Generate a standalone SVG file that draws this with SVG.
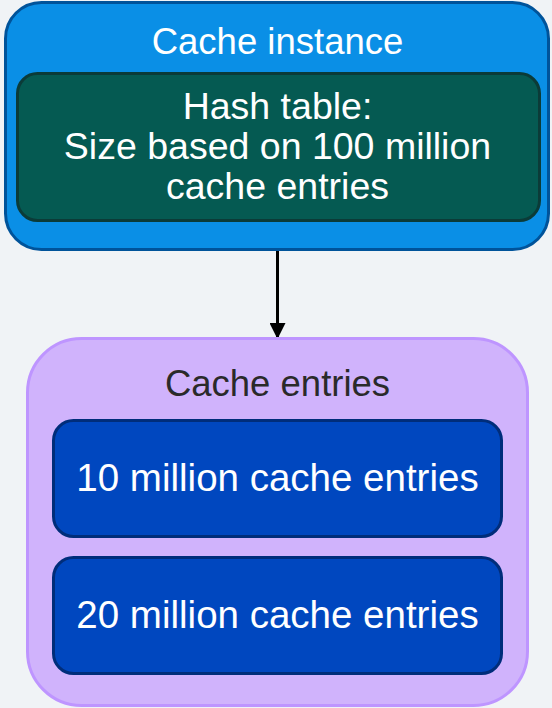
<svg xmlns="http://www.w3.org/2000/svg" width="552" height="708" viewBox="0 0 552 708">
<defs>
<style>
.t{font-family:"Liberation Sans","DejaVu Sans",sans-serif;font-size:36.5px;text-anchor:middle}
.w{fill:#ffffff}
.b{font-size:38.5px}
.h{font-size:37.5px}
</style>
<marker id="ah" markerWidth="16" markerHeight="16" viewBox="0 0 16 16" refX="15" refY="8" orient="auto" markerUnits="userSpaceOnUse">
<path d="M0,0 L16,8 L0,16 Z" fill="#000"/>
</marker>
</defs>
<rect x="0" y="0" width="552" height="708" fill="#f0f3f6"/>
<g id="connectors">
<line x1="277.5" y1="250" x2="277.5" y2="338" stroke="#000" stroke-width="3" marker-end="url(#ah)"/>
</g>
<g id="cache-instance">
<rect x="5.5" y="2.5" width="543" height="247" rx="36" fill="#0a8fe6" stroke="#00539a" stroke-width="3"/>
<text class="t w" x="277.5" y="54">Cache instance</text>
</g>
<g id="hash-table">
<rect x="17.5" y="73.5" width="522" height="147" rx="20" fill="#055a52" stroke="#0b3b38" stroke-width="3"/>
<text class="t w h" x="277.5" y="119">Hash table:</text>
<text class="t w h" x="277.5" y="159">Size based on 100 million</text>
<text class="t w h" x="277.5" y="199">cache entries</text>
</g>
<g id="cache-entries">
<rect x="27.5" y="338.5" width="500" height="367" rx="54" fill="#d0b3fc" stroke="#be95ff" stroke-width="3"/>
<text class="t" x="277.5" y="396" fill="#2a2a2a">Cache entries</text>
</g>
<g id="entries-10m">
<rect x="53.5" y="420.5" width="448" height="116" rx="20" fill="#0047bf" stroke="#002d7a" stroke-width="3"/>
<text class="t w b" x="277.5" y="491">10 million cache entries</text>
</g>
<g id="entries-20m">
<rect x="53.5" y="557.5" width="448" height="116" rx="20" fill="#0047bf" stroke="#002d7a" stroke-width="3"/>
<text class="t w b" x="277.5" y="628">20 million cache entries</text>
</g>
</svg>
